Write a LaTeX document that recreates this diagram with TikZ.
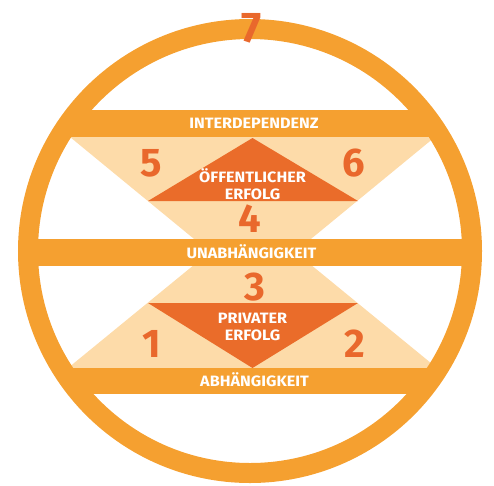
\documentclass[tikz,border=0pt]{standalone}
\usepackage{fontspec}
\setsansfont{Fira Sans}
\newfontfamily\labfont[FakeStretch=1.08]{Fira Sans}
\definecolor{ringorange}{HTML}{F5A030}
\definecolor{peach}{HTML}{FDDBA9}
\definecolor{deeporange}{HTML}{EA6C2A}
\definecolor{numorange}{HTML}{E9682C}
\tikzset{
    num/.style={text=numorange, inner sep=0pt, font=\sffamily\bfseries\fontsize{40}{40}\selectfont},
    lab/.style={text=white, inner sep=0pt, anchor=base, align=center, font=\labfont\bfseries\fontsize{15}{17}\selectfont}
}

\begin{document}
\begin{tikzpicture}[x=1pt,y=-1pt]
        \useasboundingbox (0,0) rectangle (494,485);

        % hourglass
        \fill[peach] (70,137) -- (435,137) -- (252.5,287) -- cycle;
        \fill[peach] (68,368) -- (437,368) -- (252.5,217) -- cycle;
        \fill[deeporange] (252.5,138) -- (358,201) -- (148,201) -- cycle;
        \fill[deeporange] (148,303) -- (358,303) -- (252.5,368) -- cycle;

        % bars
        \begin{scope}
            \clip (250,251) circle (222pt);
            \fill[ringorange] (0,110) rectangle (494,137);
            \fill[ringorange] (0,239) rectangle (494,266);
            \fill[ringorange] (0,368) rectangle (494,394);
        \end{scope}

        % ring
        \draw[ringorange, line width=20pt] (250,251) circle (222pt);

        \node[lab] (inter) at (254,128.5) {INTERDEPENDENZ};
        \node[lab] (unab) at (251.5,258) {UNABHÄNGIGKEIT};
        \node[lab] (ab) at (254.5,386) {ABHÄNGIGKEIT};
        \node[lab] (oeff) at (252.5,199) {ÖFFENTLICHER\\ERFOLG};
        \node[lab] (priv) at (252.5,340) {PRIVATER\\ERFOLG};

        \node[num] (n1) at (152,344) {1};
        \node[num] (n2) at (355,344) {2};
        \node[num] (n3) at (255,287) {3};
        \node[num] (n4) at (250,219) {4};
        \node[num] (n5) at (151,163) {5};
        \node[num] (n6) at (354,163) {6};
        \node[num, font=\sffamily\bfseries\fontsize{43}{43}\selectfont] (n7) at (252,28) {7};

    \end{tikzpicture}
\end{document}
